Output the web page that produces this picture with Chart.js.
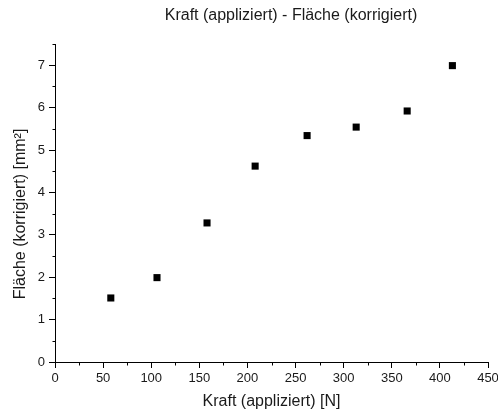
<!DOCTYPE html>
<html>
<head>
<meta charset="utf-8">
<script src="https://cdn.jsdelivr.net/npm/chart.js@4"></script>
<style>
  html, body { margin: 0; padding: 0; background: #fff; }
  #wrap { width: 498px; height: 414px; }
</style>
</head>
<body>
<div id="wrap"><canvas id="scatterChart" width="498" height="414"></canvas></div>
<script>
const chartTitle = 'Kraft (appliziert) - Fläche (korrigiert)';
const xLabel = 'Kraft (appliziert) [N]';
const yLabel = 'Fläche (korrigiert) [mm²]';

const kraft = [58, 106, 158, 208, 262, 313, 366, 413];
const flaeche = [1.51, 1.99, 3.28, 4.62, 5.34, 5.54, 5.92, 6.99];

const xMinorTicks = [25, 75, 125, 175, 225, 275, 325, 375, 425];
const yMinorTicks = [0.5, 1.5, 2.5, 3.5, 4.5, 5.5, 6.5, 7.5];

const font = 'Arial, "Liberation Sans", sans-serif';

// Origin-style short minor ticks, page title and y axis title
const extras = {
  id: 'extras',
  afterDraw(chart) {
    const ctx = chart.ctx;
    const { left, bottom } = chart.chartArea;
    const xs = chart.scales.x, ys = chart.scales.y;
    ctx.save();
    ctx.strokeStyle = '#000';
    ctx.lineWidth = 1;
    ctx.beginPath();
    xMinorTicks.forEach(v => {
      const px = Math.round(xs.getPixelForValue(v)) + 0.5;
      ctx.moveTo(px, Math.round(bottom) + 0.5);
      ctx.lineTo(px, Math.round(bottom) + 3.5);
    });
    yMinorTicks.forEach(v => {
      const py = Math.round(ys.getPixelForValue(v)) + 0.5;
      ctx.moveTo(Math.round(left) + 0.5, py);
      ctx.lineTo(Math.round(left) - 2.5, py);
    });
    ctx.stroke();

    ctx.fillStyle = '#1a1a1a';
    ctx.font = '16px ' + font;
    ctx.textAlign = 'center';
    ctx.textBaseline = 'middle';
    ctx.fillText(chartTitle, 291, 16);

    // y title sits a bit below the axis middle in the original
    ctx.translate(21, 214);
    ctx.rotate(-Math.PI / 2);
    ctx.fillText(yLabel, 0, 0);
    ctx.restore();
  }
};

const ctx = document.getElementById('scatterChart').getContext('2d');
new Chart(ctx, {
  type: 'scatter',
  data: {
    datasets: [{
      data: kraft.map((x, i) => ({ x, y: flaeche[i] })),
      pointStyle: 'rect',
      pointRadius: 5,
      pointHoverRadius: 5,
      backgroundColor: '#000',
      borderColor: '#000',
      borderWidth: 0
    }]
  },
  options: {
    responsive: false,
    animation: false,
    layout: { padding: { top: 44, right: 10, left: 0, bottom: 0 } },
    plugins: {
      legend: { display: false },
      tooltip: { enabled: false }
    },
    scales: {
      x: {
        type: 'linear',
        min: 0,
        max: 450,
        afterFit: s => { s.height = 52; s.paddingRight = 0; s.paddingLeft = 0; },
        ticks: { stepSize: 50, color: '#1a1a1a', padding: 3, font: { size: 13, family: font }, maxRotation: 0 },
        grid: { drawOnChartArea: false, drawTicks: true, tickLength: 6, tickColor: '#000' },
        border: { color: '#000', width: 1 },
        title: { display: true, text: xLabel, color: '#1a1a1a', font: { size: 16, family: font }, padding: { top: 0, bottom: 3 } }
      },
      y: {
        type: 'linear',
        min: 0,
        max: 7.5,
        afterFit: s => { s.width = 55; s.paddingTop = 0; s.paddingBottom = 0; },
        ticks: { stepSize: 1, includeBounds: false, color: '#1a1a1a', padding: 4, font: { size: 13, family: font } },
        grid: { drawOnChartArea: false, drawTicks: true, tickLength: 6, tickColor: '#000' },
        border: { color: '#000', width: 1 }
      }
    }
  },
  plugins: [extras]
});
</script>
</body>
</html>
